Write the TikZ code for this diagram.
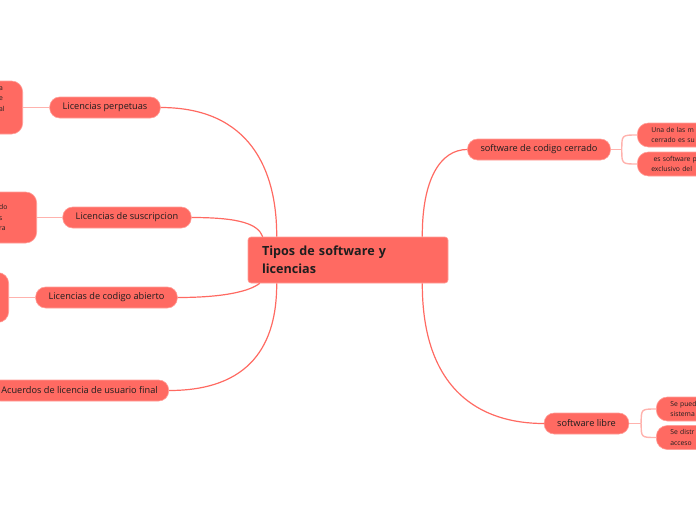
\documentclass[tikz,border=0pt]{standalone}
\usepackage{fontspec}
\setmainfont{Open Sans}
\usepackage{xcolor}
\usetikzlibrary{positioning}
\definecolor{coral}{HTML}{FF6A62}
\definecolor{coraledge}{HTML}{FF9E98}
\definecolor{pinkline}{HTML}{FFB2AD}
\definecolor{inkdark}{HTML}{1E1E1E}

\tikzset{
  topic/.style={fill=coral, draw=coraledge, line width=0.6pt, rounded corners=10pt,
    minimum height=21pt, inner xsep=13pt, inner ysep=0pt, text=inkdark,
    font=\fontsize{9.2}{10}\selectfont},
  leaf/.style={fill=coral, draw=coraledge, line width=0.6pt, rounded corners=11pt,
    text=inkdark, font=\fontsize{6.8}{10.8}\selectfont, align=left},
  branch/.style={draw=coral, line width=1.2pt},
  twig/.style={draw=pinkline, line width=1.4pt}
}

\begin{document}
\begin{tikzpicture}[x=1pt, y=-1pt]
  \useasboundingbox (0,0) rectangle (696,520);
  \clip (0,0) rectangle (696,520);

  % central topic
  \node[fill=coral, draw=coraledge, line width=0.6pt, rounded corners=3pt,
        minimum width=200pt, minimum height=46pt, text width=172pt, align=left,
        inner xsep=14pt, text=inkdark, font=\fontsize{12.6}{18}\selectfont\bfseries]
        (tipos) at (348,260) {Tipos de software y\\licencias};

  % left topics
  \node[topic] (perpetuas) at (105,107.5) {Licencias perpetuas};
  \node[topic] (suscripcion) at (127,217.5) {Licencias de suscripcion};
  \node[topic] (abierto) at (106.5,297.5) {Licencias de codigo abierto};
  \node[topic, anchor=east, inner xsep=11pt] (eula) at (169,390.5) {Acuerdos de licencia de usuario final};

  % right topics
  \node[topic] (cerrado) at (539,149.5) {software de codigo cerrado};
  \node[topic] (libre) at (586.5,423.5) {software libre};

  % left leaves (cut by the page edge)
  \node[leaf, anchor=east, minimum width=70pt, minimum height=53pt] (perp-leaf) at (23,107.5) {};
  \node[anchor=west, inner sep=0pt, align=left, text=inkdark,
        font=\fontsize{6.8}{10.8}\selectfont] (perp-text) at (-1,99) {a\\e\\al};
  \node[leaf, anchor=east, minimum width=70pt, minimum height=51pt] (susc-leaf) at (37,217.5) {};
  \node[anchor=west, inner sep=0pt, align=left, text=inkdark,
        font=\fontsize{6.8}{10.8}\selectfont] (susc-text) at (-1,217.5) {do\\s\\ra};
  \node[leaf, anchor=east, minimum width=70pt, minimum height=50pt] (abierto-leaf) at (9,297.5) {};

  % right leaves (cut by the page edge)
  \node[leaf, anchor=west, minimum width=90pt, minimum height=24pt, inner xsep=14pt,
        text width=70pt] (cerr-a) at (637,135) {Una de las m\\cerrado es su};
  \node[leaf, anchor=west, minimum width=90pt, minimum height=24pt, inner xsep=14pt,
        text width=70pt] (cerr-b) at (637,164) {\ es software p\\exclusivo del};
  \node[leaf, anchor=west, minimum width=90pt, minimum height=24pt, inner xsep=14pt,
        text width=70pt] (libre-a) at (656,409) {Se pued\\sistema};
  \node[leaf, anchor=west, minimum width=90pt, minimum height=24pt, inner xsep=14pt,
        text width=70pt] (libre-b) at (656,437.5) {Se distr\\acceso};

  % branches from the central topic
  \draw[branch] ([xshift=29pt]tipos.north west) .. controls (277,170) and (250,107.5) .. (perpetuas.east);
  \draw[branch] ([xshift=15pt]tipos.north west) .. controls (258,224) and (240,217.5) .. (suscripcion.east);
  \draw[branch] ([xshift=12pt]tipos.south west) .. controls (250,291) and (225,297.5) .. (abierto.east);
  \draw[branch] ([xshift=29pt]tipos.south west) .. controls (277,345) and (250,390.5) .. (eula.east);
  \draw[branch] ([xshift=-26pt]tipos.north east) .. controls (422,180) and (440,149.5) .. (cerrado.west);
  \draw[branch] ([xshift=-26pt]tipos.south east) .. controls (422,390) and (480,423.5) .. (libre.west);

  % twigs to the leaves
  \draw[twig] (perp-leaf.east) -- (perpetuas.west);
  \draw[twig] (susc-leaf.east) -- (suscripcion.west);
  \draw[twig] (abierto-leaf.east) -- (abierto.west);

  \coordinate (cerr-fork) at ([xshift=11pt]cerrado.east);
  \draw[twig] (cerrado.east) -- (cerr-fork);
  \draw[twig] (cerr-fork) .. controls (cerr-fork |- cerr-a.west) .. (cerr-a.west);
  \draw[twig] (cerr-fork) .. controls (cerr-fork |- cerr-b.west) .. (cerr-b.west);

  \coordinate (libre-fork) at ([xshift=12pt]libre.east);
  \draw[twig] (libre.east) -- (libre-fork);
  \draw[twig] (libre-fork) .. controls (libre-fork |- libre-a.west) .. (libre-a.west);
  \draw[twig] (libre-fork) .. controls (libre-fork |- libre-b.west) .. (libre-b.west);
\end{tikzpicture}
\end{document}
